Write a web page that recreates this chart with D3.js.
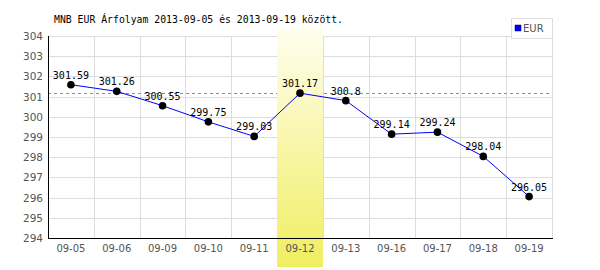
<!DOCTYPE html>
<meta charset="utf-8">
<script src="https://d3js.org/d3.v7.min.js"></script>
<style>
body { margin: 0; background: #fff; }
</style>
<div id="chart"></div>
<script>

// data
var dates = ["09-05", "09-06", "09-09", "09-10", "09-11", "09-12", "09-13", "09-16", "09-17", "09-18", "09-19"];
var rates = [301.59, 301.26, 300.55, 299.75, 299.03, 301.17, 300.8, 299.14, 299.24, 298.04, 296.05];
var yTicks = [294, 295, 296, 297, 298, 299, 300, 301, 302, 303, 304];
var highlightDate = "09-12";
var refValue = 301.17;

var margin = {top: 36, right: 48, bottom: 32, left: 48},
    width = 600 - margin.left - margin.right,
    height = 270 - margin.top - margin.bottom;

var svg = d3.select("#chart")
  .append("svg")
    .attr("width", 600)
    .attr("height", 270)
  .append("g")
    .attr("transform", "translate(" + margin.left + "," + margin.top + ")");

var x = d3.scaleBand()
  .domain(dates)
  .range([0, width]);

var y = d3.scaleLinear()
  .domain([294, 304])
  .range([height, 0]);

// gradient for the highlighted day
var grad = svg.append("defs").append("linearGradient")
  .attr("id", "hl")
  .attr("x1", 0).attr("y1", 0).attr("x2", 0).attr("y2", 1);
grad.append("stop").attr("offset", "0%").attr("stop-color", "#fffef0");
grad.append("stop").attr("offset", "100%").attr("stop-color", "#f0ee60");

// grid
svg.append("g")
  .selectAll("line")
  .data(yTicks)
  .enter().append("line")
    .attr("x1", 0).attr("x2", width)
    .attr("y1", function(d) { return Math.round(y(d)) + 0.5; })
    .attr("y2", function(d) { return Math.round(y(d)) + 0.5; })
    .attr("stroke", "#dddddd");

svg.append("g")
  .selectAll("line")
  .data(dates)
  .enter().append("line")
    .attr("x1", function(d) { return Math.round(x(d) + x.bandwidth()) + 0.5; })
    .attr("x2", function(d) { return Math.round(x(d) + x.bandwidth()) + 0.5; })
    .attr("y1", 0).attr("y2", height)
    .attr("stroke", "#dddddd");

// reference dashed line
svg.append("line")
  .attr("x1", 0).attr("x2", width)
  .attr("y1", Math.round(y(refValue)) + 0.5)
  .attr("y2", Math.round(y(refValue)) + 0.5)
  .attr("stroke", "#8080ff")
  .attr("stroke-dasharray", "3,3");

// highlight band
svg.append("rect")
  .attr("x", Math.round(x(highlightDate)))
  .attr("y", -9)
  .attr("width", Math.round(x.bandwidth()))
  .attr("height", height + 9 + 29)
  .attr("fill", "url(#hl)");

// axes
svg.append("line")
  .attr("x1", 0.5).attr("x2", 0.5)
  .attr("y1", 0).attr("y2", height + 1)
  .attr("stroke", "#000");
svg.append("line")
  .attr("x1", 0).attr("x2", width + 1)
  .attr("y1", height + 0.5).attr("y2", height + 0.5)
  .attr("stroke", "#000");

svg.append("g")
  .selectAll("text")
  .data(yTicks)
  .enter().append("text")
    .attr("x", -5)
    .attr("y", function(d) { return y(d) + 4; })
    .attr("text-anchor", "end")
    .attr("font-family", "DejaVu Sans")
    .attr("font-size", "10.5px")
    .attr("fill", "#555")
    .text(function(d) { return d; });

svg.append("g")
  .selectAll("text")
  .data(dates)
  .enter().append("text")
    .attr("x", function(d) { return x(d) + x.bandwidth() / 2; })
    .attr("y", height + 14)
    .attr("text-anchor", "middle")
    .attr("font-family", "DejaVu Sans")
    .attr("font-size", "10px")
    .attr("fill", "#555")
    .text(function(d) { return d; });

// line + dots
var line = d3.line()
  .x(function(d, i) { return x(dates[i]) + x.bandwidth() / 2; })
  .y(function(d) { return y(d); });

svg.append("path")
  .datum(rates)
  .attr("d", line)
  .attr("fill", "none")
  .attr("stroke", "#0000ff")
  .attr("stroke-width", 1);

svg.append("g")
  .selectAll("circle")
  .data(rates)
  .enter().append("circle")
    .attr("cx", function(d, i) { return x(dates[i]) + x.bandwidth() / 2; })
    .attr("cy", function(d) { return y(d); })
    .attr("r", 3.8)
    .attr("fill", "#000");

svg.append("g")
  .selectAll("text")
  .data(rates)
  .enter().append("text")
    .attr("x", function(d, i) { return x(dates[i]) + x.bandwidth() / 2; })
    .attr("y", function(d) { return y(d) - 6; })
    .attr("text-anchor", "middle")
    .attr("font-family", "DejaVu Sans Mono")
    .attr("font-size", "10px")
    .attr("fill", "#000")
    .text(function(d) { return d; });

// title
svg.append("text")
  .attr("x", 6)
  .attr("y", -13)
  .attr("font-family", "DejaVu Sans Mono")
  .attr("font-size", "9.8px")
  .attr("fill", "#000")
  .text("MNB EUR Árfolyam 2013-09-05 és 2013-09-19 között.");

// legend
var legend = svg.append("g")
  .attr("transform", "translate(" + (width - 41) + ",-18)");
legend.append("rect")
  .attr("x", 0.5).attr("y", 0.5)
  .attr("width", 41).attr("height", 20)
  .attr("fill", "#fff")
  .attr("stroke", "#dddddd");
legend.append("rect")
  .attr("x", 4).attr("y", 7)
  .attr("width", 6).attr("height", 6)
  .attr("fill", "#0000ff")
  .attr("stroke", "#000066")
  .attr("stroke-width", 0.5);
legend.append("text")
  .attr("x", 12)
  .attr("y", 14)
  .attr("font-family", "DejaVu Sans")
  .attr("font-size", "10px")
  .attr("fill", "#555")
  .text("EUR");

</script>
